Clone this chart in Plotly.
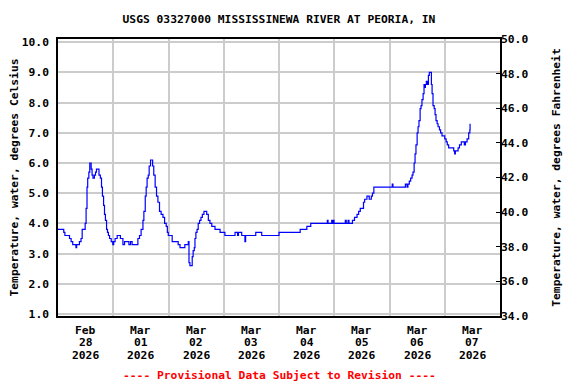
import pandas as pd
import plotly.graph_objects as go

# hours after 2026-02-28 00:00 and water temperature (deg C)
hours = [
    0, 2.5, 3.0, 5.0, 5.7, 6.4, 7.8, 8.1, 9.3, 10.0, 10.5, 11.8, 12.2, 12.6, 12.9, 13.4,
    13.8, 14.4, 14.8, 15.2, 15.8, 16.3, 16.7, 17.8, 18.4, 18.9, 19.3, 19.8, 20.2, 20.6,
    21.1, 21.5, 21.9, 22.4, 23.1, 23.8, 24.2, 24.8, 25.7, 27.1, 28.2, 28.9, 30.8, 31.5,
    32.2, 34.7, 35.4, 36.1, 36.9, 37.3, 37.9, 38.3, 38.7, 39.2, 39.6, 40.2, 41.1, 41.6,
    42.2, 42.8, 43.4, 44.1, 44.8, 45.6, 46.3, 47.0, 47.5, 47.9,
    49.6, 52.2, 53.0, 55.1, 56.6, 56.9, 57.3, 58.3, 58.7, 59.2, 59.5, 59.9, 60.4, 60.9,
    61.5, 62.1, 62.7, 63.4, 64.6, 65.3, 66.0, 66.8, 68.2, 70.4, 72.5, 76.9, 78.0, 78.4,
    79.8, 81.2, 81.5, 85.9, 88.5,
    96.0, 105.2, 108.1, 109.8, 117.0, 117.3, 118.9, 119.2, 119.6, 119.9, 124.8, 125.2,
    126.0, 126.4, 127.9, 128.8, 129.9, 130.6, 131.3, 132.7, 133.2, 134.2, 135.2, 136.1,
    136.6, 137.2,
    145.2, 145.5, 150.9, 151.6, 152.0, 152.6, 153.2, 153.8, 154.2, 154.7, 155.1, 155.5,
    156.0, 156.4, 156.8, 157.3, 157.7, 158.1, 158.6, 159.0, 159.3, 159.6, 160.0, 160.4,
    160.9, 161.3, 162.2, 162.5, 162.9, 163.4, 163.8, 164.2, 164.7, 165.1, 165.7, 166.2,
    166.8, 168.0, 168.6, 169.1, 169.7, 171.9, 172.3, 172.6, 173.8, 174.4, 175.2, 176.5,
    177.0, 177.7, 178.4, 178.9, 179.0,
]
temp_c = [
    3.8, 3.7, 3.6, 3.5, 3.4, 3.3, 3.2, 3.3, 3.4, 3.5, 3.8, 4.0, 4.5, 5.2, 5.5, 5.7,
    6.0, 5.8, 5.6, 5.5, 5.6, 5.7, 5.8, 5.6, 5.5, 5.2, 4.9, 4.6, 4.3, 4.1,
    3.8, 3.7, 3.6, 3.5, 3.4, 3.3, 3.4, 3.5, 3.6, 3.5, 3.3, 3.4, 3.3, 3.4,
    3.3, 3.5, 3.6, 3.8, 4.1, 4.4, 4.9, 5.2, 5.5, 5.6, 5.9, 6.1, 5.9, 5.6,
    5.2, 4.9, 4.7, 4.4, 4.3, 4.2, 4.0, 3.9, 3.7, 3.6,
    3.4, 3.3, 3.2, 3.3, 3.4, 2.7, 2.6, 2.9, 3.1, 3.2, 3.5, 3.7, 3.8, 4.0,
    4.1, 4.2, 4.3, 4.4, 4.3, 4.1, 4.0, 3.9, 3.8, 3.7, 3.6, 3.7, 3.6, 3.7,
    3.6, 3.4, 3.6, 3.7, 3.6,
    3.7, 3.8, 3.9, 4.0, 4.1, 4.0, 4.1, 4.0, 4.1, 4.0, 4.1, 4.0,
    4.1, 4.0, 4.1, 4.2, 4.3, 4.4, 4.5, 4.7, 4.8, 4.9, 4.8, 4.9,
    5.0, 5.2,
    5.3, 5.2, 5.3, 5.2, 5.3, 5.4, 5.5, 5.6, 5.7, 6.0, 6.3, 6.6,
    7.0, 7.2, 7.4, 7.8, 7.9, 8.1, 8.3, 8.6, 8.5, 8.6, 8.7, 8.6,
    8.9, 9.0, 8.6, 8.3, 7.9, 7.8, 7.6, 7.4, 7.3, 7.2, 7.1, 7.0,
    6.9, 6.8, 6.7, 6.6, 6.5, 6.4, 6.3, 6.4, 6.5, 6.6, 6.7, 6.6,
    6.7, 6.8, 7.0, 7.1, 7.3,
]

day_dates = ["2026-02-28", "2026-03-01", "2026-03-02", "2026-03-03",
             "2026-03-04", "2026-03-05", "2026-03-06", "2026-03-07"]
day_month = ["Feb", "Mar", "Mar", "Mar", "Mar", "Mar", "Mar", "Mar"]
day_num = ["28", "01", "02", "03", "04", "05", "06", "07"]
day_year = ["2026"] * 8

celsius_ticks = [1, 2, 3, 4, 5, 6, 7, 8, 9, 10]
fahrenheit_ticks = [34, 36, 38, 40, 42, 44, 46, 48, 50]

title_text = "USGS 03327000 MISSISSINEWA RIVER AT PEORIA, IN"
left_title = "Temperature, water, degrees Celsius"
right_title = "Temperature, water, degrees Fahrenheit"
provisional = "---- Provisional Data Subject to Revision ----"

start = pd.Timestamp("2026-02-28 00:00")
end = pd.Timestamp("2026-03-08 00:00")
times = [start + pd.Timedelta(hours=h) for h in hours]
temp_f = [c * 1.8 + 32 for c in temp_c]

FONT = "DejaVu Sans Mono"
FS = 11.3
GRID = "#cccccc"

fig = go.Figure()
fig.add_trace(go.Scatter(
    x=times, y=temp_c, mode="lines", line=dict(color="#0000ff", width=1.2, shape="hv"),
    showlegend=False, hoverinfo="skip"))
fig.add_trace(go.Scatter(
    x=times, y=temp_f, mode="lines", yaxis="y2", opacity=0,
    line=dict(color="#0000ff", width=1, shape="hv"), showlegend=False, hoverinfo="skip"))

noon = [pd.Timestamp(d) + pd.Timedelta(hours=12) for d in day_dates]
midnights = [pd.Timestamp(d) for d in day_dates] + [end]

annotations = []
for i, t in enumerate(noon):
    for j, txt in enumerate([day_month[i], day_num[i], day_year[i]]):
        annotations.append(dict(
            text="<b>" + txt + "</b>", x=t, xref="x", y=0, yref="paper",
            yshift=-(14 + 12.9 * j), xanchor="center", yanchor="middle",
            showarrow=False, font=dict(family=FONT, size=FS, color="black")))
annotations.append(dict(
    text="<b>" + provisional + "</b>", xref="paper", yref="paper",
    x=0.5, y=0, yshift=-59, xanchor="center", yanchor="middle", showarrow=False,
    font=dict(family=FONT, size=FS, color="red")))

# the page is drawn with an 8px body margin, so the figure is 8px smaller
fig.update_layout(
    width=568, height=376,
    margin=dict(l=50, r=76, t=31, b=68, autoexpand=False),
    paper_bgcolor="white", plot_bgcolor="white",
    font=dict(family=FONT, size=FS, color="black"),
    title=dict(text="<b>" + title_text + "</b>", x=0.5, xref="paper", xanchor="center",
               y=1 - 11 / 376, yref="container", yanchor="middle", automargin=False,
               font=dict(family=FONT, size=FS, color="black")),
    xaxis=dict(
        range=[start, end], automargin=False,
        showticklabels=False, ticks="", showgrid=False, zeroline=False,
        showline=True, linecolor="black", linewidth=1.5, mirror=True,
        minor=dict(tickvals=midnights, showgrid=True, gridcolor=GRID, gridwidth=1.5, ticks=""),
    ),
    yaxis=dict(
        range=[0.934, 10.106], tickvals=celsius_ticks, automargin=False,
        ticktext=["<b>%.1f</b>" % v for v in celsius_ticks],
        ticks="outside", ticklen=5, tickcolor="rgba(0,0,0,0)",
        showgrid=True, gridcolor=GRID, gridwidth=1.5, zeroline=False,
        showline=True, linecolor="black", linewidth=1.5, mirror=True,
        tickfont=dict(family=FONT, size=FS, color="black"),
        title=dict(text="<b>" + left_title + "</b>", standoff=9,
                   font=dict(family=FONT, size=FS, color="black")),
    ),
    yaxis2=dict(
        range=[34, 50], overlaying="y", side="right", automargin=False,
        tickvals=fahrenheit_ticks,
        ticktext=["<b>%.1f</b>" % v for v in fahrenheit_ticks],
        ticks="inside", ticklen=4, tickcolor="black", tickwidth=1,
        showgrid=False, zeroline=False, showline=False,
        tickfont=dict(family=FONT, size=FS, color="black"),
        title=dict(text="<b>" + right_title + "</b>", standoff=24,
                   font=dict(family=FONT, size=FS, color="black")),
    ),
    annotations=annotations,
)

fig.write_html("out.html")
